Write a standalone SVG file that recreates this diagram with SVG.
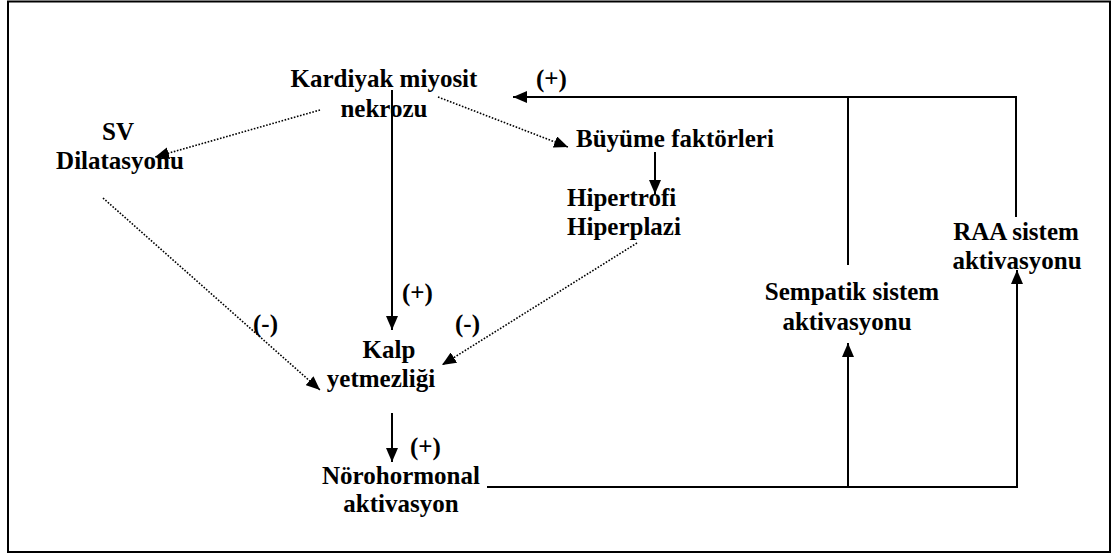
<svg xmlns="http://www.w3.org/2000/svg" width="1115" height="556" viewBox="0 0 1115 556">
  <defs>
    <marker id="head" viewBox="0 0 14 12" refX="14" refY="6" markerWidth="14" markerHeight="12" markerUnits="userSpaceOnUse" orient="auto">
      <path d="M0,0 L14,6 L0,12 Z" fill="#000"/>
    </marker>
    <style>
      .t { font-family: 'Liberation Serif', 'Times New Roman', Times, serif; font-weight: 700; font-size: 25px; fill: #000; }
      .c { text-anchor: middle; }
      .solid { stroke: #000; stroke-width: 2; fill: none; }
      .dot { stroke: #000; stroke-width: 1.6; stroke-dasharray: 1.6 1.6; fill: none; }
    </style>
  </defs>
  <rect width="1115" height="556" fill="#fff"/>
  <!-- frame -->
  <rect x="8" y="1.5" width="1102" height="550.5" fill="none" stroke="#000" stroke-width="2"/>

  <g id="connectors">
    <line class="dot" x1="320" y1="110" x2="155" y2="157" marker-end="url(#head)"/>
    <line class="dot" x1="438" y1="97" x2="568" y2="147" marker-end="url(#head)"/>
    <line class="solid" x1="392" y1="90" x2="392" y2="330" marker-end="url(#head)"/>
    <line class="solid" x1="655" y1="152" x2="655" y2="194" marker-end="url(#head)"/>
    <line class="dot" x1="103" y1="198" x2="320" y2="390" marker-end="url(#head)"/>
    <line class="dot" x1="637" y1="243" x2="442" y2="365" marker-end="url(#head)"/>
    <line class="solid" x1="392" y1="413" x2="392" y2="462" marker-end="url(#head)"/>
    <polyline class="solid" points="487,487 1017,487 1017,270" marker-end="url(#head)"/>
    <line class="solid" x1="848" y1="487" x2="848" y2="343" marker-end="url(#head)"/>
    <line class="solid" x1="848" y1="265" x2="848" y2="97"/>
    <polyline class="solid" points="1016,217 1016,97 513,97" marker-end="url(#head)"/>
    <g class="t">
      <text x="536" y="87">(+)</text>
      <text x="402" y="301">(+)</text>
      <text x="253" y="332">(-)</text>
      <text x="455" y="332">(-)</text>
      <text x="410" y="455">(+)</text>
    </g>
  </g>

  <g id="miyosit-nekrozu" class="t">
    <text class="c" x="384" y="87">Kardiyak miyosit</text>
    <text class="c" x="384" y="117">nekrozu</text>
  </g>
  <g id="sv-dilatasyonu" class="t">
    <text class="c" x="118" y="140">SV</text>
    <text class="c" x="120" y="169">Dilatasyonu</text>
  </g>
  <g id="buyume-faktorleri" class="t">
    <text x="576" y="147">Büyüme faktörleri</text>
  </g>
  <g id="hipertrofi" class="t">
    <text x="567" y="206">Hipertrofi</text>
    <text x="567" y="235">Hiperplazi</text>
  </g>
  <g id="kalp-yetmezligi" class="t">
    <text class="c" x="389" y="358">Kalp</text>
    <text class="c" x="381" y="387">yetmezliği</text>
  </g>
  <g id="norohormonal" class="t">
    <text class="c" x="401" y="484">Nörohormonal</text>
    <text class="c" x="401" y="512">aktivasyon</text>
  </g>
  <g id="sempatik" class="t">
    <text class="c" x="852" y="300">Sempatik sistem</text>
    <text class="c" x="847" y="330">aktivasyonu</text>
  </g>
  <g id="raa" class="t">
    <text class="c" x="1016" y="240">RAA sistem</text>
    <text class="c" x="1017" y="269">aktivasyonu</text>
  </g>
</svg>
